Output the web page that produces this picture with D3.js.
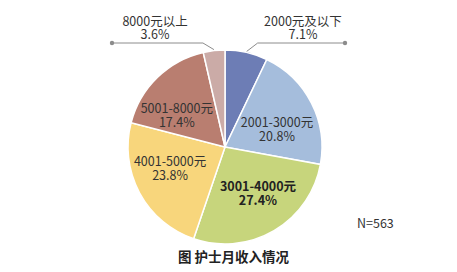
<!DOCTYPE html>
<html>
<head>
<meta charset="utf-8">
<script src="https://cdn.jsdelivr.net/npm/d3@7"></script>
<style>
  body { margin: 0; background: #fff; }
  svg text { font-family: "Noto Sans CJK SC", "Open Sans", sans-serif; fill: #333; }
</style>
</head>
<body>
<svg id="chart" width="457" height="272"></svg>
<script>
var categories = ["2000元及以下", "2001-3000元", "3001-4000元", "4001-5000元", "5001-8000元", "8000元以上"];
var values = [7.1, 20.8, 27.4, 23.8, 17.4, 3.6];
var colors = ["#6d7db5", "#a5bddc", "#c7d57c", "#f8d67c", "#b97e70", "#cbaba7"];

var svg = d3.select("#chart");
var cx = 225, cy = 147, r = 97;

var pie = d3.pie().sort(null).value(function(d) { return d; });
var arcs = pie(values);
var arc = d3.arc().innerRadius(0).outerRadius(r);
var inner = d3.arc().innerRadius(r * 0.55).outerRadius(r * 0.55);

var g = svg.append("g").attr("transform", "translate(" + cx + "," + cy + ")");

g.selectAll("path.slice")
  .data(arcs)
  .enter().append("path")
    .attr("class", "slice")
    .attr("d", arc)
    .style("fill", function(d, i) { return colors[i]; })
    .style("stroke", "#fff")
    .style("stroke-width", 1.5);

// inside labels, nudged off the centroid
var insideOffsets = {1: [4.5, 10], 2: [6, 4], 3: [-8, 0], 4: [-11, 10]};
arcs.forEach(function(d, i) {
  if (!(i in insideOffsets)) return;
  var c = inner.centroid(d);
  var x = c[0] + insideOffsets[i][0], y = c[1] + insideOffsets[i][1];
  var t = g.append("text")
    .attr("text-anchor", "middle")
    .style("font-size", "12.5px")
    .style("font-weight", i === 2 ? "bold" : "normal")
    .style("fill", i === 2 ? "#222" : "#333");
  t.append("tspan").attr("x", x).attr("y", y - 6).text(categories[i]);
  t.append("tspan").attr("x", x).attr("y", y + 8).text(values[i].toFixed(1) + "%");
});

// outside labels with leader lines
var outside = [
  {i: 0, side: 1, end: 120, textX: 78},
  {i: 5, side: -1, end: -113, textX: -70}
];
outside.forEach(function(o) {
  var d = arcs[o.i];
  var mid = (d.startAngle + d.endAngle) / 2;
  var p0 = [Math.sin(mid) * (r + 1), -Math.cos(mid) * (r + 1)];
  var yLine = -104;
  var p1 = [p0[0] + o.side * 11, yLine];
  g.append("polyline")
    .attr("points", [p0, p1, [o.end, yLine]].map(function(p) { return p.join(","); }).join(" "))
    .style("fill", "none")
    .style("stroke", "#8c8c8c")
    .style("stroke-width", 1);
  g.append("circle")
    .attr("cx", o.end).attr("cy", yLine).attr("r", 2.2)
    .style("fill", "#8c8c8c");
  var t = g.append("text")
    .attr("text-anchor", "middle")
    .style("font-size", "12.5px");
  t.append("tspan").attr("x", o.textX).attr("y", -121).text(categories[o.i]);
  t.append("tspan").attr("x", o.textX).attr("y", -108).text(values[o.i].toFixed(1) + "%");
});

svg.append("text")
  .attr("x", 357).attr("y", 228)
  .style("font-size", "12.5px")
  .text("N=563");

svg.append("text")
  .attr("x", 178).attr("y", 262)
  .style("font-size", "13.5px")
  .style("font-weight", "bold")
  .style("fill", "#222")
  .text("图 护士月收入情况");
</script>
</body>
</html>
